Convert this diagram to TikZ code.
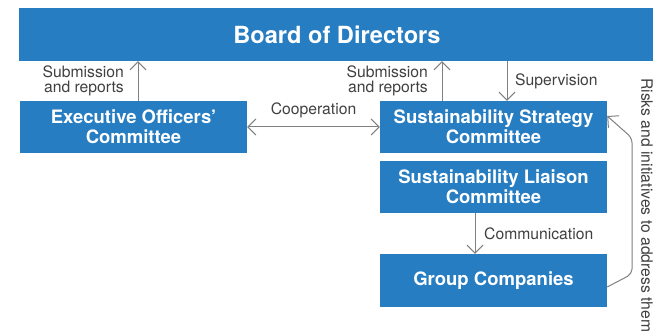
\documentclass[tikz,border=0pt]{standalone}
\usepackage{fontspec}
\setmainfont{TeX Gyre Heros}
\usetikzlibrary{arrows.meta}
\definecolor{boxblue}{RGB}{38,125,194}
\definecolor{linegray}{RGB}{128,128,128}
\definecolor{labelgray}{RGB}{64,64,64}
\begin{document}
\begin{tikzpicture}[x=1pt,y=-1pt,
  tip/.tip={Straight Barb[length=8pt,width=16pt,line width=1pt]},
  bluebox/.style={rectangle, fill=boxblue, text=white, inner sep=0pt,
    minimum width=227, minimum height=52, align=center,
    font=\fontsize{18.5}{20}\selectfont\bfseries},
  arr/.style={draw=linegray, line width=1pt, -tip},
  lbl/.style={text=labelgray, inner sep=0pt, font=\fontsize{15.7}{15.5}\selectfont}]
\useasboundingbox (0,0) rectangle (653,334);

% boxes
\node[bluebox, minimum width=636, minimum height=53,
  font=\fontsize{23.6}{26}\selectfont\bfseries] (board) at (337,34.5) {Board of Directors};
\node[bluebox] (exec) at (133.5,127) {Executive Officers’\\Committee};
\node[bluebox] (strat) at (493.5,127) {Sustainability Strategy\\Committee};
\node[bluebox] (liaison) at (493.5,187) {Sustainability Liaison\\Committee};
\node[bluebox, minimum height=53] (group) at (493.5,280.5) {Group Companies};

% reporting lines to the board
\draw[arr] ([xshift=4.5]exec.north) -- ([xshift=4.5]exec.north |- board.south);
\node[lbl, anchor=east, align=right] (lsub1) at (124,81) {Submission\\and reports};
\draw[arr] ([xshift=-51.5]strat.north) -- ([xshift=-51.5]strat.north |- board.south);
\node[lbl, anchor=east, align=right] (lsub2) at (428,81) {Submission\\and reports};
\draw[arr] ([xshift=13.5]strat.north |- board.south) -- ([xshift=13.5]strat.north);
\node[lbl, anchor=west] (lsup) at (515,81) {Supervision};

% cooperation
\draw[draw=linegray, line width=1pt, tip-tip] (exec.east) -- (strat.west);
\node[lbl] (lcoop) at (313.5,110) {Cooperation};

% communication
\draw[arr] ([xshift=-18.5]liaison.south) -- ([xshift=-18.5]liaison.south |- group.north);
\node[lbl, anchor=west] (lcomm) at (484,234) {Communication};

% feedback loop
\coordinate (loopa) at (632,274);
\coordinate (loopb) at (632,138);
\draw[arr, rounded corners=5pt] ([yshift=-6.5]group.east) -- (loopa) -- (loopb) -- ([yshift=11]strat.east);
\node[lbl, rotate=-90, anchor=west] (lrisk) at (647,78) {Risks and initiatives to address them};
\end{tikzpicture}
\end{document}
